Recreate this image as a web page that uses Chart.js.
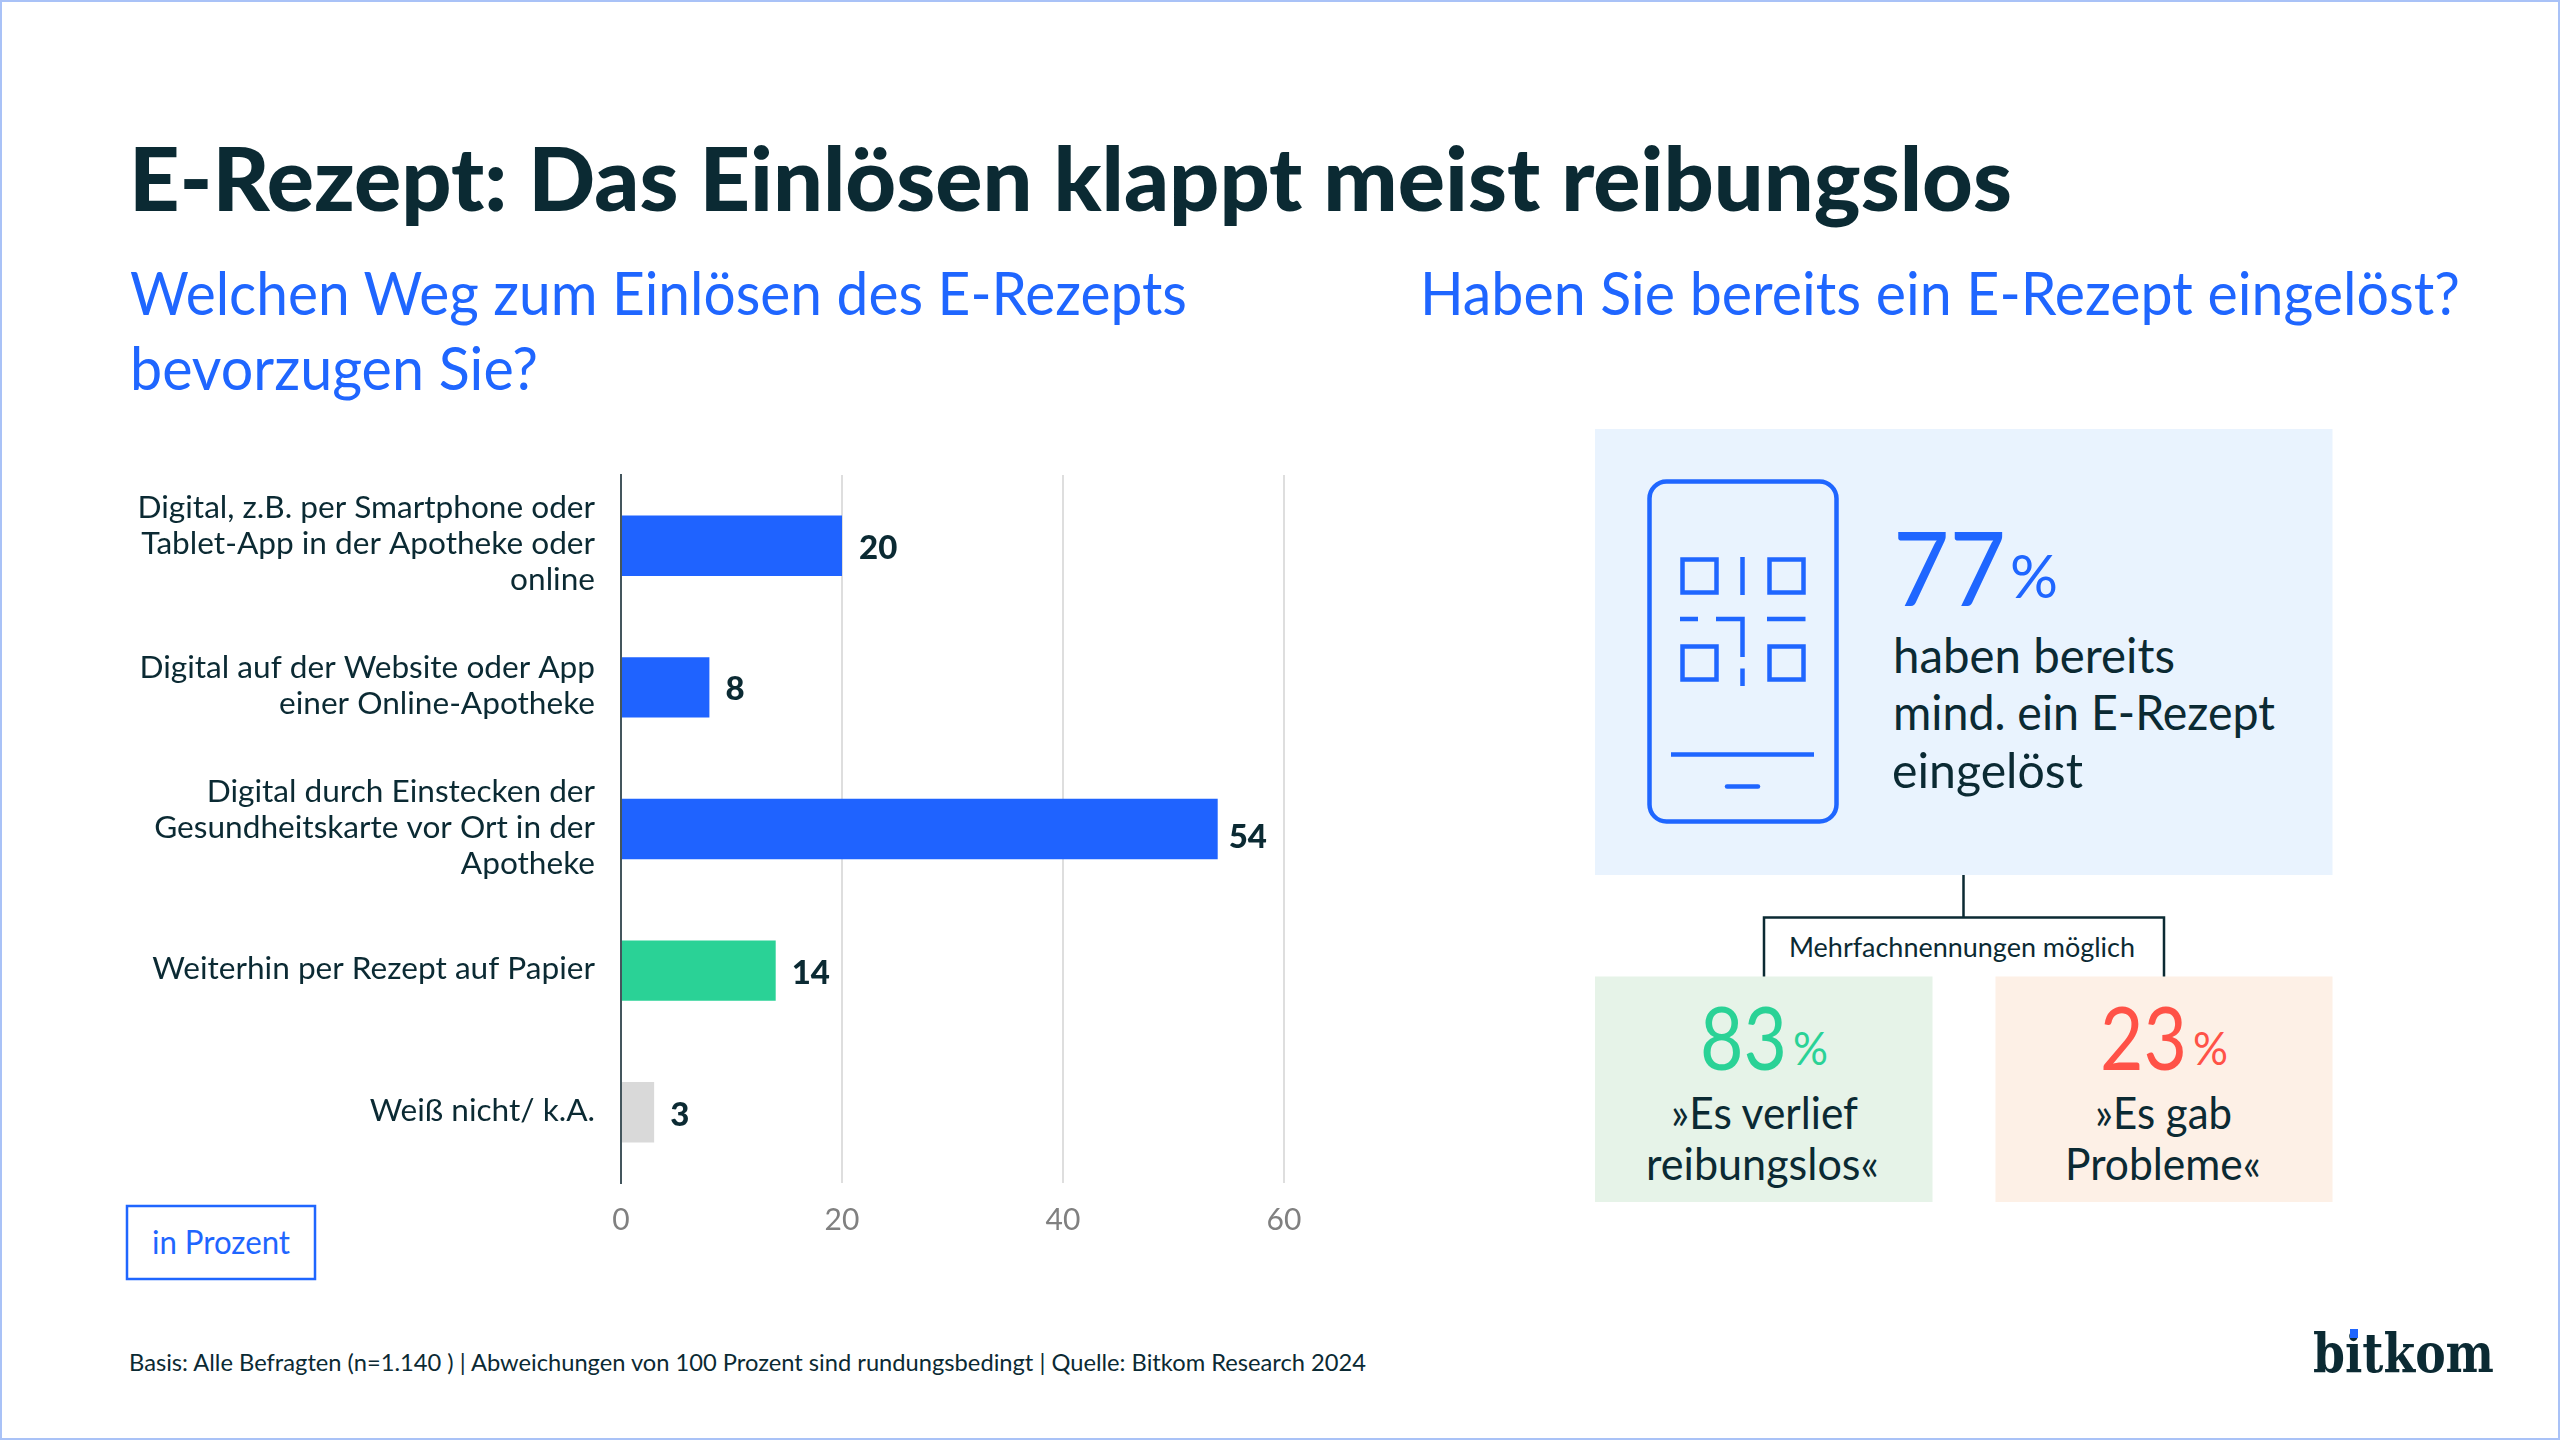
<!DOCTYPE html>
<html lang="de"><head><meta charset="utf-8">
<script src="https://cdn.jsdelivr.net/npm/chart.js@4"></script>
<style>
html,body{margin:0;padding:0;background:#fff;width:2560px;height:1440px;overflow:hidden}
#wrap{position:relative;width:2560px;height:1440px}
canvas,svg{position:absolute;left:0;top:0}
text{font-family:Lato,"Noto Sans",sans-serif;fill:#0b2a33}
.blue{fill:#1f66ff}.green{fill:#2ad296}.red{fill:#ff5247}
</style></head><body>
<div id="wrap">
<svg width="2560" height="1440" viewBox="0 0 2560 1440" xmlns="http://www.w3.org/2000/svg">
<rect x="1" y="1" width="2558" height="1438" fill="none" stroke="#a9c2f7" stroke-width="2"/>
<text x="129" y="211" font-size="88" font-weight="900" textLength="1883" lengthAdjust="spacingAndGlyphs">E-Rezept: Das Einlösen klappt meist reibungslos</text>
<text class="blue" x="130" y="315" font-size="60" textLength="1057" lengthAdjust="spacingAndGlyphs">Welchen Weg zum Einlösen des E-Rezepts</text>
<text class="blue" x="130" y="390" font-size="60" textLength="408" lengthAdjust="spacingAndGlyphs">bevorzugen Sie?</text>
<text class="blue" x="1420" y="315" font-size="60" textLength="1040" lengthAdjust="spacingAndGlyphs">Haben Sie bereits ein E-Rezept eingelöst?</text>

<rect x="1595" y="429" width="737.5" height="446" fill="#e9f3fe"/>
<rect x="1595" y="976.5" width="337.5" height="225.5" fill="#e6f3e8"/>
<rect x="1995.5" y="976.5" width="337" height="225.5" fill="#fdf0e6"/>
<path d="M1963.5 875V917.5M1764 976.5V917.5H2164V976.5" fill="none" stroke="#0b2a33" stroke-width="2.5"/>

<g fill="none" stroke="#1f66ff" stroke-width="4.5">
<rect x="1649.5" y="481.5" width="187" height="340" rx="17"/>
<rect x="1682.5" y="559.5" width="34" height="33"/>
<rect x="1769.5" y="559.5" width="34" height="33"/>
<rect x="1682.5" y="646.5" width="34" height="33"/>
<rect x="1769.5" y="646.5" width="34" height="33"/>
<path d="M1742.5 557V595M1680 619H1698M1716 619H1742.5V657M1767 619H1805.5M1742.5 668.5V686M1671 754.5H1814"/>
<path d="M1727 786.5H1758" stroke-linecap="round"/>
</g>

<text class="blue" x="1893" y="606" font-size="102" textLength="113" lengthAdjust="spacingAndGlyphs">77</text>
<text class="blue" x="2010" y="598" font-size="60" textLength="48" lengthAdjust="spacingAndGlyphs">%</text>
<text x="1893" y="672.5" font-size="48" textLength="282" lengthAdjust="spacingAndGlyphs">haben bereits</text>
<text x="1893" y="730" font-size="48" textLength="382" lengthAdjust="spacingAndGlyphs">mind. ein E-Rezept</text>
<text x="1892" y="787.5" font-size="48" textLength="191" lengthAdjust="spacingAndGlyphs">eingelöst</text>
<text x="1789" y="957" font-size="27" textLength="346" lengthAdjust="spacingAndGlyphs">Mehrfachnennungen möglich</text>

<text class="green" x="1700" y="1070" font-size="88" textLength="87" lengthAdjust="spacingAndGlyphs">83</text>
<text class="green" x="1793" y="1065" font-size="46" textLength="35" lengthAdjust="spacingAndGlyphs">%</text>
<text x="1671" y="1129" font-size="44" textLength="187" lengthAdjust="spacingAndGlyphs">»Es verlief</text>
<text x="1646" y="1180" font-size="44" textLength="233" lengthAdjust="spacingAndGlyphs">reibungslos«</text>

<text class="red" x="2100" y="1070" font-size="88" textLength="87" lengthAdjust="spacingAndGlyphs">23</text>
<text class="red" x="2193" y="1065" font-size="46" textLength="35" lengthAdjust="spacingAndGlyphs">%</text>
<text x="2095" y="1129" font-size="44" textLength="137" lengthAdjust="spacingAndGlyphs">»Es gab</text>
<text x="2065" y="1180" font-size="44" textLength="196" lengthAdjust="spacingAndGlyphs">Probleme«</text>

<rect x="127" y="1206" width="188" height="73" fill="none" stroke="#1f66ff" stroke-width="2.5"/>
<text class="blue" x="152" y="1254" font-size="32" textLength="138" lengthAdjust="spacingAndGlyphs">in Prozent</text>
<text x="129" y="1371" font-size="24" textLength="1237" lengthAdjust="spacingAndGlyphs">Basis: Alle Befragten (n=1.140 ) | Abweichungen von 100 Prozent sind rundungsbedingt | Quelle: Bitkom Research 2024</text>

<text x="2313" y="1372" font-size="55" font-weight="700" textLength="181" lengthAdjust="spacingAndGlyphs" style="font-family:'DejaVu Serif',serif">bitkom</text>
<rect x="2350" y="1329" width="8" height="9" fill="#1f66ff"/>
</svg>
<canvas id="c" width="2560" height="1440"></canvas>
</div>
<script>
const categories = [
  ["Digital, z.B. per Smartphone oder","Tablet-App in der Apotheke oder","online"],
  ["Digital auf der Website oder App","einer Online-Apotheke"],
  ["Digital durch Einstecken der","Gesundheitskarte vor Ort in der","Apotheke"],
  ["Weiterhin per Rezept auf Papier"],
  ["Weiß nicht/ k.A."]
];
const values = [20, 8, 54, 14, 3];
const barColors = ["#1f63ff","#1f63ff","#1f63ff","#2ad296","#d9d9d9"];
const xTicks = [0, 20, 40, 60];
const labelShiftX = [17, 16, 11, 16, 16];
const labelShiftY = [3, 2, 8, 3, 3];
const ink = "#0b2a33";

const valueLabels = {
  id: "valueLabels",
  afterDatasetsDraw(chart) {
    const { ctx } = chart;
    const meta = chart.getDatasetMeta(0);
    ctx.save();
    ctx.font = "900 33px Lato, 'Noto Sans', sans-serif";
    ctx.fillStyle = ink;
    ctx.textAlign = "left";
    ctx.textBaseline = "middle";
    meta.data.forEach((bar, i) => ctx.fillText(String(values[i]), bar.x + labelShiftX[i], bar.y + labelShiftY[i]));
    ctx.restore();
  }
};

new Chart(document.getElementById("c"), {
  type: "bar",
  data: { labels: categories, datasets: [{
    data: values, backgroundColor: barColors, borderWidth: 0,
    categoryPercentage: 1, barPercentage: 0.4265 }] },
  plugins: [valueLabels],
  options: {
    indexAxis: "y", responsive: false, animation: false,
    layout: { padding: { left: 0, top: 475, right: 1276, bottom: 197 } },
    plugins: { legend: { display: false }, tooltip: { enabled: false } },
    scales: {
      x: {
        min: 0, max: 60, afterBuildTicks(s){ s.ticks = xTicks.map(v => ({ value: v })); },
        grid: { color: "#dedede", lineWidth: 2, drawTicks: false },
        border: { display: false },
        ticks: { color: "#808080", padding: 19, font: { family: "Lato", size: 30 } },
        afterFit(s){ s.height = 60; }
      },
      y: {
        grid: { display: false },
        border: { display: true, color: "#44565d", width: 2 },
        ticks: { color: ink, padding: 18, labelOffset: -1.5, autoSkip: false, font: { family: "Lato", size: 31.6, lineHeight: 1.139 } },
        afterFit(s){ s.width = 621; }
      }
    }
  }
});
</script>
</body></html>
